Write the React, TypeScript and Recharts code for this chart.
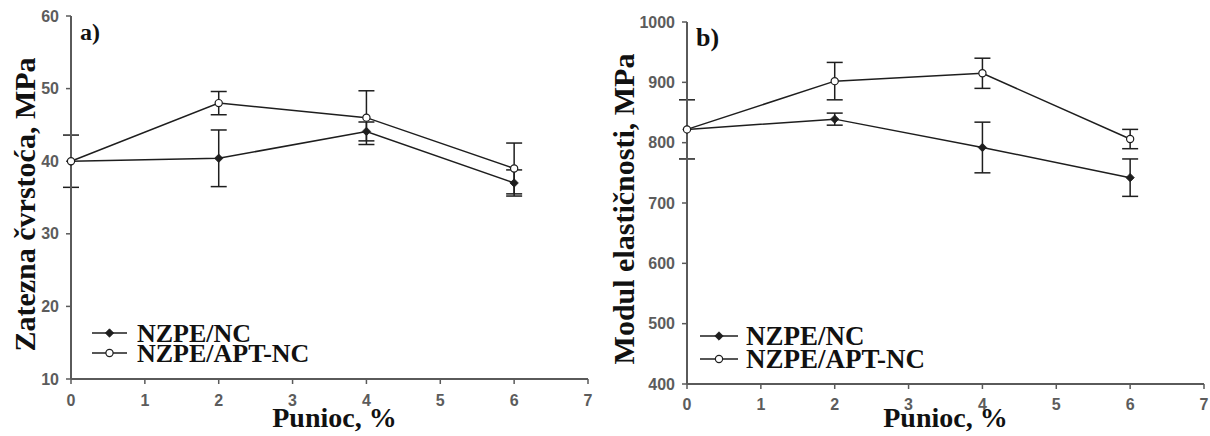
import React from 'react';
import { LineChart, Line, XAxis, YAxis, ErrorBar, Legend } from 'recharts';

// ---- data ----
const fillerPct = [0, 2, 4, 6];
const xTicks = [0, 1, 2, 3, 4, 5, 6, 7];

const ncStrength = [40.0, 40.4, 44.1, 37.0];
const ncStrengthErr = [3.6, 3.9, 1.3, 1.8];
const aptStrength = [40.0, 48.0, 46.0, 39.0];
const aptStrengthErr = [null, 1.6, 3.7, 3.5];
const strengthTicks = [10, 20, 30, 40, 50, 60];

const ncModulus = [822, 839, 792, 742];
const ncModulusErr = [49, 10, 42, 31];
const aptModulus = [822, 902, 915, 806];
const aptModulusErr = [null, 31, 25, 16];
const modulusTicks = [400, 500, 600, 700, 800, 900, 1000];

const seriesNames = ['NZPE/NC', 'NZPE/APT-NC'];

const strengthData = fillerPct.map((x, i) => ({
  x,
  nc: ncStrength[i],
  ncErr: ncStrengthErr[i],
  apt: aptStrength[i],
  aptErr: aptStrengthErr[i],
}));
const modulusData = fillerPct.map((x, i) => ({
  x,
  nc: ncModulus[i],
  ncErr: ncModulusErr[i],
  apt: aptModulus[i],
  aptErr: aptModulusErr[i],
}));

const SERIF = '"Liberation Serif", "Times New Roman", serif';
const SANS = '"Liberation Sans", Arial, sans-serif';
const AXIS = '#5a5a5a';
const INK = '#1e1e1e';

const Diamond = (props: any) => {
  const { cx, cy } = props;
  if (cx == null || cy == null) return null;
  const s = 4.2;
  return <path d={`M${cx},${cy - s}L${cx + s},${cy}L${cx},${cy + s}L${cx - s},${cy}Z`} fill={INK} stroke={INK} strokeWidth={0.8} />;
};
const OpenCircle = (props: any) => {
  const { cx, cy } = props;
  if (cx == null || cy == null) return null;
  return <circle cx={cx} cy={cy} r={3.6} fill="#fff" stroke={INK} strokeWidth={1.2} />;
};

const makeLegend = (fontSize: number, rowGap: number, lineLen: number, textGap: number) => () => (
  <svg width={260} height={rowGap * 2 + 10} style={{ overflow: 'visible' }}>
    {seriesNames.map((name, i) => {
      const y = 8 + i * rowGap;
      return (
        <g key={name}>
          <line x1={0} x2={lineLen} y1={y} y2={y} stroke={INK} strokeWidth={1.5} />
          {i === 0 ? <Diamond cx={lineLen / 2} cy={y} /> : <OpenCircle cx={lineLen / 2} cy={y} />}
          <text x={lineLen + textGap} y={y + fontSize * 0.33} fontFamily={SERIF} fontWeight="bold" fontSize={fontSize} fill="#111">
            {name}
          </text>
        </g>
      );
    })}
  </svg>
);

type PanelProps = {
  data: any[];
  width: number;
  height: number;
  yWidth: number;
  xHeight: number;
  marginTop: number;
  marginRight: number;
  domain: [number, number];
  yTicks: number[];
  yLabel: string;
  yLabelDx: number;
  yLabelDy: number;
  xLabelDx: number;
  xLabelDy: number;
  xTickMargin: number;
  panelTag: string;
  tagSize: number;
  legendLeft: number;
  legendTop: number;
  legendFont: number;
  legendRowGap: number;
  legendLineLen: number;
  legendTextGap: number;
};

const Panel = (p: PanelProps) => {
  const tickStyle = { fontFamily: SANS, fontSize: 16, fontWeight: 'bold', fill: '#5c5c5c' };
  return (
    <LineChart
      width={p.width}
      height={p.height}
      data={p.data}
      margin={{ top: p.marginTop, right: p.marginRight, bottom: 0, left: 0 }}
    >
      <XAxis
        dataKey="x"
        type="number"
        domain={[0, 7]}
        ticks={xTicks}
        height={p.xHeight}
        axisLine={{ stroke: AXIS, strokeWidth: 2 }}
        tickLine={{ stroke: AXIS, strokeWidth: 1.5 }}
        tickSize={5}
        tickMargin={p.xTickMargin}
        tick={tickStyle}
        label={(lp: any) => {
          const vb = lp.viewBox;
          return (
            <text
              x={vb.x + vb.width / 2 + p.xLabelDx}
              y={vb.y + p.xLabelDy}
              textAnchor="middle"
              fontFamily={SERIF}
              fontWeight="bold"
              fontSize={28}
              fill="#111"
            >
              Punioc, %
            </text>
          );
        }}
      />
      <XAxis
        xAxisId="top"
        orientation="top"
        type="number"
        domain={[0, 7]}
        height={0}
        tick={false}
        tickLine={false}
        axisLine={{ stroke: AXIS, strokeWidth: 2 }}
      />
      <YAxis
        type="number"
        domain={p.domain}
        ticks={p.yTicks}
        width={p.yWidth}
        axisLine={{ stroke: AXIS, strokeWidth: 2 }}
        tickLine={{ stroke: AXIS, strokeWidth: 1.5 }}
        tickSize={5}
        tickMargin={7}
        tick={tickStyle}
        label={(lp: any) => {
          const vb = lp.viewBox;
          const cx = p.yLabelDx;
          const cy = vb.y + vb.height / 2 + p.yLabelDy;
          return (
            <text
              x={cx}
              y={cy}
              transform={`rotate(-90 ${cx} ${cy})`}
              textAnchor="middle"
              dominantBaseline="central"
              fontFamily={SERIF}
              fontWeight="bold"
              fontSize={30}
              fill="#111"
            >
              {p.yLabel}
            </text>
          );
        }}
      />
      <YAxis
        yAxisId="right"
        orientation="right"
        type="number"
        domain={p.domain}
        width={0}
        tick={false}
        tickLine={false}
        axisLine={{ stroke: AXIS, strokeWidth: 2 }}
      />
      <Legend
        layout="vertical"
        align="center"
        verticalAlign="middle"
        wrapperStyle={{ left: p.legendLeft, top: p.legendTop, width: 260 }}
        content={makeLegend(p.legendFont, p.legendRowGap, p.legendLineLen, p.legendTextGap)}
      />
      <Line
        dataKey="nc"
        name={seriesNames[0]}
        stroke={INK}
        strokeWidth={1.5}
        dot={<Diamond />}
        activeDot={false}
        isAnimationActive={false}
      >
        <ErrorBar dataKey="ncErr" direction="y" width={8} stroke={INK} strokeWidth={1.5} isAnimationActive={false} />
      </Line>
      <Line
        dataKey="apt"
        name={seriesNames[1]}
        stroke={INK}
        strokeWidth={1.5}
        dot={<OpenCircle />}
        activeDot={false}
        isAnimationActive={false}
      >
        <ErrorBar dataKey="aptErr" direction="y" width={8} stroke={INK} strokeWidth={1.5} isAnimationActive={false} />
      </Line>
      <text x={p.yWidth + 9} y={p.marginTop + 24} fontFamily={SERIF} fontWeight="bold" fontSize={p.tagSize} fill="#111">
        {p.panelTag}
      </text>
    </LineChart>
  );
};

export default function App() {
  return (
    <div style={{ position: 'absolute', left: 0, top: 0, width: 1210, height: 436, background: '#fff', overflow: 'hidden' }}>
      <div style={{ position: 'absolute', left: 0, top: 0 }}>
        <Panel
          data={strengthData}
          width={600}
          height={436}
          yWidth={71}
          xHeight={57}
          marginTop={16}
          marginRight={12}
          domain={[10, 60]}
          yTicks={strengthTicks}
          yLabel="Zatezna čvrstoća, MPa"
          yLabelDx={24}
          yLabelDy={7}
          xLabelDx={5}
          xLabelDy={48}
          xTickMargin={11}
          panelTag="a)"
          tagSize={24}
          legendLeft={92}
          legendTop={325}
          legendFont={26}
          legendRowGap={20}
          legendLineLen={35}
          legendTextGap={10}
        />
      </div>
      <div style={{ position: 'absolute', left: 600, top: 0 }}>
        <Panel
          data={modulusData}
          width={610}
          height={436}
          yWidth={87}
          xHeight={52}
          marginTop={22}
          marginRight={6}
          domain={[400, 1000]}
          yTicks={modulusTicks}
          yLabel="Modul elastičnosti, MPa"
          yLabelDx={23}
          yLabelDy={6}
          xLabelDx={0}
          xLabelDy={43}
          xTickMargin={10}
          panelTag="b)"
          tagSize={26}
          legendLeft={100}
          legendTop={328}
          legendFont={27}
          legendRowGap={23}
          legendLineLen={38}
          legendTextGap={8}
        />
      </div>
    </div>
  );
}
